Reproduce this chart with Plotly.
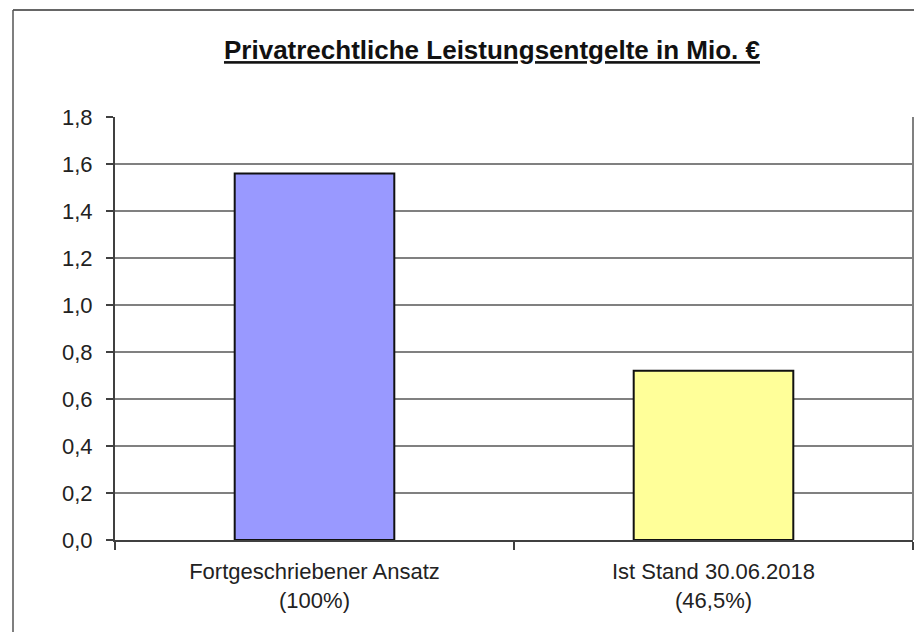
import plotly.graph_objects as go

# Data
categories = ["Fortgeschriebener Ansatz<br>(100%)", "Ist Stand 30.06.2018<br>(46,5%)"]
values = [1.56, 0.72]
bar_colors = ["#9999ff", "#ffff99"]
y_ticks = [0.0, 0.2, 0.4, 0.6, 0.8, 1.0, 1.2, 1.4, 1.6, 1.8]

# page body has an 8px margin, so the figure is sized / placed around it
fig = go.Figure(
    go.Bar(
        x=categories,
        y=values,
        width=0.4,
        marker=dict(color=bar_colors, line=dict(color="#111111", width=2)),
        showlegend=False,
    )
)

fig.update_layout(
    width=914,
    height=624,
    paper_bgcolor="white",
    plot_bgcolor="white",
    separators=",.",
    font=dict(family="Liberation Sans, Arial, sans-serif", size=22, color="#222222"),
    margin=dict(l=107, r=9, t=109, b=92, autoexpand=False),
    title=dict(
        text="<b><u>Privatrechtliche Leistungsentgelte in Mio. €</u></b>",
        x=(492 - 8) / 914,
        xanchor="center",
        y=1 - (50 - 8) / 624,
        yanchor="middle",
        font=dict(size=26, color="#111111"),
    ),
    xaxis=dict(
        showline=True,
        linecolor="#404040",
        linewidth=2,
        ticks="outside",
        tickson="boundaries",
        ticklen=8,
        tickwidth=1.5,
        tickcolor="#404040",
        showgrid=False,
        tickfont=dict(size=22),
        ticklabelstandoff=11,
    ),
    yaxis=dict(
        range=[0, 1.8],
        tickvals=y_ticks,
        tickformat=".1f",
        showline=True,
        linecolor="#404040",
        linewidth=2,
        ticks="outside",
        ticklen=7,
        tickwidth=1.5,
        tickcolor="#404040",
        showgrid=True,
        gridcolor="#808080",
        gridwidth=1.5,
        zeroline=False,
        tickfont=dict(size=22),
        ticklabelstandoff=9,
    ),
)

# right edge of plot area
fig.add_shape(type="line", xref="paper", yref="paper", x0=1, x1=1, y0=0, y1=1,
              line=dict(color="#808080", width=2))
# outer chart border (top and left)
fig.add_shape(type="line", xref="paper", yref="paper",
              x0=-102 / 798, x1=1 + 20 / 798, y0=1 + 107 / 423, y1=1 + 107 / 423,
              line=dict(color="#333333", width=1.5))
fig.add_shape(type="line", xref="paper", yref="paper",
              x0=-102 / 798, x1=-102 / 798, y0=1 + 107 / 423, y1=-100 / 423,
              line=dict(color="#555555", width=1.5))

fig.write_html("out.html")
